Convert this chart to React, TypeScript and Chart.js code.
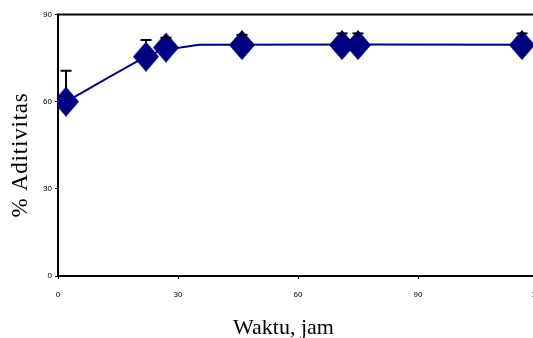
import React, { useEffect, useRef } from "react";
import { Chart, registerables } from "chart.js";

Chart.register(...registerables);

// Data
const timeHours = [2, 22, 27, 46, 71, 75, 116];
const activity = [60, 75.5, 78.6, 79.5, 79.5, 79.5, 79.5];
const errorTop = [70.6, 81.2, 82.0, 83.0, 83.5, 83.5, 83.5];
const trendX = [2, 22, 27, 30.5, 35.5, 120];
const trendY = [60, 75.5, 78.0, 78.6, 79.6, 79.6];
const xTicks = [0, 30, 60, 90, 120];
const yTicks = [0, 30, 60, 90];
const xTitle = "Waktu, jam";
const yTitle = "% Aditivitas";

const NAVY = "#000080";
const DIAMOND_W = 26;
const DIAMOND_H = 30;

function makeDiamond(): HTMLCanvasElement {
  const c = document.createElement("canvas");
  c.width = DIAMOND_W;
  c.height = DIAMOND_H;
  const ctx = c.getContext("2d")!;
  ctx.fillStyle = NAVY;
  ctx.beginPath();
  ctx.moveTo(0, DIAMOND_H / 2);
  ctx.lineTo(DIAMOND_W / 2, 0);
  ctx.lineTo(DIAMOND_W, DIAMOND_H / 2);
  ctx.lineTo(DIAMOND_W / 2, DIAMOND_H);
  ctx.closePath();
  ctx.fill();
  return c;
}

export default function App() {
  const ref = useRef<HTMLCanvasElement>(null);

  useEffect(() => {
    const prevMargin = document.body.style.margin;
    document.body.style.margin = "0";
    const canvas = ref.current!;
    const diamond = makeDiamond();

    const decorations = {
      id: "decorations",
      beforeDatasetsDraw(chart: any) {
        const { ctx, chartArea } = chart;
        ctx.save();
        ctx.strokeStyle = "#000";
        ctx.lineWidth = 2;
        // top frame
        ctx.beginPath();
        ctx.moveTo(chartArea.left - 1, chartArea.top);
        ctx.lineTo(chartArea.right + 1, chartArea.top);
        ctx.stroke();
        ctx.beginPath();
        ctx.moveTo(chartArea.right, chartArea.top);
        ctx.lineTo(chartArea.right, chartArea.bottom);
        ctx.stroke();
        ctx.restore();
      },
      afterDatasetsDraw(chart: any) {
        const { ctx, scales } = chart;
        const xs = scales.x;
        const ys = scales.y;
        ctx.save();
        ctx.strokeStyle = "#000";
        ctx.lineWidth = 2;
        // error bars (upward only), drawn above the markers
        for (let i = 0; i < timeHours.length; i++) {
          const px = xs.getPixelForValue(timeHours[i]);
          const py = ys.getPixelForValue(activity[i]) - DIAMOND_H / 2 + 2;
          const pt = ys.getPixelForValue(errorTop[i]);
          ctx.beginPath();
          if (pt < py) {
            ctx.moveTo(px, py);
            ctx.lineTo(px, pt);
          }
          ctx.moveTo(px - 5.5, pt);
          ctx.lineTo(px + 5.5, pt);
          ctx.stroke();
        }
        ctx.restore();
      },
      afterDraw(chart: any) {
        const { ctx } = chart;
        ctx.save();
        ctx.fillStyle = "#000";
        ctx.font = '22px "Liberation Serif"';
        ctx.textAlign = "center";
        ctx.textBaseline = "alphabetic";
        ctx.fillText(xTitle, 283.5, 334);
        ctx.translate(27, 155);
        ctx.rotate(-Math.PI / 2);
        ctx.font = '23px "Liberation Serif"';
        (ctx as any).letterSpacing = "0.8px";
        ctx.fillText(yTitle, 0, 0);
        ctx.restore();
      },
    };

    const chart = new Chart(canvas, {
      type: "scatter",
      data: {
        datasets: [
          {
            label: "Aktivitas",
            data: timeHours.map((x, i) => ({ x, y: activity[i] })),
            pointStyle: diamond as any,
            pointRadius: 13,
            backgroundColor: NAVY,
            borderColor: NAVY,
            showLine: false,
            order: 0,
          },
          {
            label: "Trend",
            type: "line",
            data: trendX.map((x, i) => ({ x, y: trendY[i] })),
            borderColor: NAVY,
            borderWidth: 2,
            pointRadius: 0,
            tension: 0.2,
            fill: false,
            order: 1,
          } as any,
        ],
      },
      options: {
        animation: false,
        responsive: false,
        maintainAspectRatio: false,
        layout: { padding: { top: 14.5, right: 22, left: 0, bottom: 0 } },
        plugins: {
          legend: { display: false },
          tooltip: { enabled: false },
          title: { display: false },
        },
        scales: {
          x: {
            type: "linear",
            min: 0,
            max: 120,
            afterFit(scale: any) {
              scale.height = 62;
            },
            afterBuildTicks(scale: any) {
              scale.ticks = xTicks.map((v) => ({ value: v }));
            },
            border: { display: true, color: "#000", width: 2 },
            grid: {
              display: true,
              drawOnChartArea: false,
              drawTicks: true,
              tickLength: 3,
              color: "#000",
              lineWidth: 1,
            },
            ticks: {
              color: "#000",
              font: { family: "Liberation Sans", size: 8 },
              padding: 11,
              maxRotation: 0,
            },
          },
          y: {
            type: "linear",
            min: 0,
            max: 90,
            afterFit(scale: any) {
              scale.width = 58;
            },
            afterBuildTicks(scale: any) {
              scale.ticks = yTicks.map((v) => ({ value: v }));
            },
            border: { display: true, color: "#000", width: 2 },
            grid: {
              display: true,
              drawOnChartArea: false,
              drawTicks: true,
              tickLength: 3,
              color: "#000",
              lineWidth: 1,
            },
            ticks: {
              color: "#000",
              font: { family: "Liberation Sans", size: 8 },
              padding: 3,
            },
          },
        },
      },
      plugins: [decorations],
    });

    return () => {
      chart.destroy();
      document.body.style.margin = prevMargin;
    };
  }, []);

  return (
    <div
      style={{
        position: "fixed",
        left: 0,
        top: 0,
        width: 533,
        height: 338,
        overflow: "hidden",
        background: "#fff",
      }}
    >
      <canvas ref={ref} width={560} height={338} style={{ width: 560, height: 338, display: "block" }} />
    </div>
  );
}
